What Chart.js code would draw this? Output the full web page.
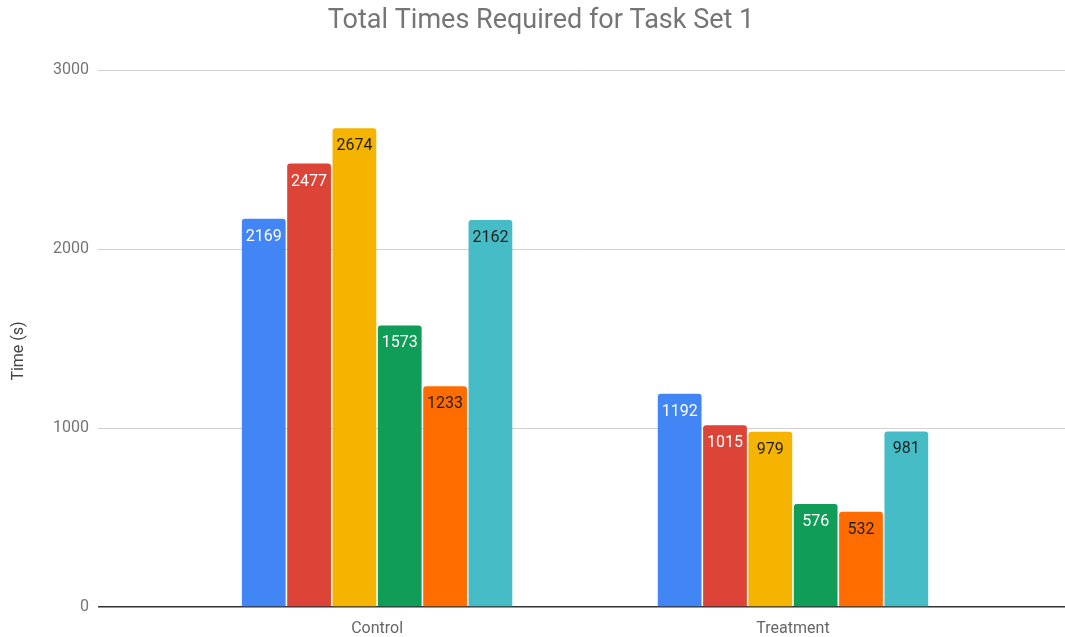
<!DOCTYPE html>
<html>
<head>
<meta charset="utf-8">
<script src="https://cdn.jsdelivr.net/npm/chart.js@4.4.1/dist/chart.umd.min.js"></script>
<style>
  html, body { margin: 0; padding: 0; background: #ffffff; }
  #wrap { width: 1065px; height: 637px; }
</style>
</head>
<body>
<div id="wrap"><canvas id="chart" width="1065" height="637"></canvas></div>
<script>
// Groups along the horizontal axis
const categories = ["Control", "Treatment"];

// Total time (seconds) per series, one value per group
const series1 = [2169, 1192];
const series2 = [2477, 1015];
const series3 = [2674, 979];
const series4 = [1573, 576];
const series5 = [1233, 532];
const series6 = [2162, 981];

const seriesNames = ["Series 1", "Series 2", "Series 3", "Series 4", "Series 5", "Series 6"];
const yTicks = [0, 1000, 2000, 3000];

const chartTitle = 'Total Times Required for Task Set 1';
const yAxisTitle = 'Time (s)';

const barColors = ["#4285F4", "#DB4437", "#F4B400", "#0F9D58", "#FF6D00", "#46BDC6"];
const labelColors = ["#ffffff", "#ffffff", "#1f1f1f", "#ffffff", "#1f1f1f", "#1f1f1f"];

const allSeries = [series1, series2, series3, series4, series5, series6];

const datasets = allSeries.map((vals, s) => ({
  label: seriesNames[s],
  data: vals.map((v, i) => ({ x: i, y: v })),
  backgroundColor: barColors[s],
  borderWidth: 0,
  borderRadius: 3,
  borderSkipped: 'bottom',
  categoryPercentage: 0.654,
  barPercentage: 0.965
}));

const FONT = 'Roboto, "Noto Sans", sans-serif';

// Value labels drawn just inside the top of each bar
const barValueLabels = {
  id: 'barValueLabels',
  afterDatasetsDraw(chart) {
    const ctx = chart.ctx;
    ctx.save();
    ctx.font = '16px ' + FONT;
    ctx.textAlign = 'center';
    ctx.textBaseline = 'middle';
    chart.data.datasets.forEach((ds, s) => {
      const meta = chart.getDatasetMeta(s);
      meta.data.forEach((bar, i) => {
        ctx.fillStyle = labelColors[s];
        ctx.fillText(String(ds.data[i].y), bar.x, bar.y + 18);
      });
    });
    ctx.restore();
  }
};

// Chart heading and the vertical axis caption
const headings = {
  id: 'headings',
  afterDraw(chart) {
    const ctx = chart.ctx;
    ctx.save();
    ctx.fillStyle = '#757575';
    ctx.font = '27px ' + FONT;
    ctx.textAlign = 'center';
    ctx.textBaseline = 'alphabetic';
    ctx.fillText(chartTitle, 541, 28);

    ctx.translate(19, 351);
    ctx.rotate(-Math.PI / 2);
    ctx.fillStyle = '#444444';
    ctx.font = '16px ' + FONT;
    ctx.textBaseline = 'middle';
    ctx.fillText(yAxisTitle, 0, 0);
    ctx.restore();
  }
};

new Chart(document.getElementById('chart'), {
  type: 'bar',
  data: { datasets },
  plugins: [barValueLabels, headings],
  options: {
    responsive: false,
    animation: false,
    layout: { padding: { top: 70, left: 0, right: 0, bottom: 0 } },
    plugins: {
      legend: { display: false },
      tooltip: { enabled: false },
      title: { display: false }
    },
    scales: {
      x: {
        type: 'linear',
        offset: false,
        bounds: 'data',
        min: -0.671,
        max: 1.654,
        grid: { display: false },
        border: { display: false },
        afterBuildTicks(scale) {
          scale.ticks = categories.map((c, i) => ({ value: i }));
        },
        afterFit(scale) { scale.height = 30; },
        ticks: {
          padding: 4,
          color: '#666666',
          font: { family: FONT, size: 16 },
          callback: (v) => categories[v] !== undefined ? categories[v] : ''
        }
      },
      y: {
        min: 0,
        max: 3000,
        afterBuildTicks(scale) {
          scale.ticks = yTicks.map(v => ({ value: v }));
        },
        afterFit(scale) { scale.width = 98; },
        border: { display: false },
        grid: {
          drawTicks: false,
          color: (c) => c.tick && c.tick.value === 0 ? '#333333' : '#d0d0d0',
          lineWidth: (c) => c.tick && c.tick.value === 0 ? 1.5 : 1
        },
        ticks: {
          padding: 9,
          color: '#757575',
          font: { family: FONT, size: 16 },
          callback: (v) => String(v)
        }
      }
    }
  }
});
</script>
</body>
</html>
